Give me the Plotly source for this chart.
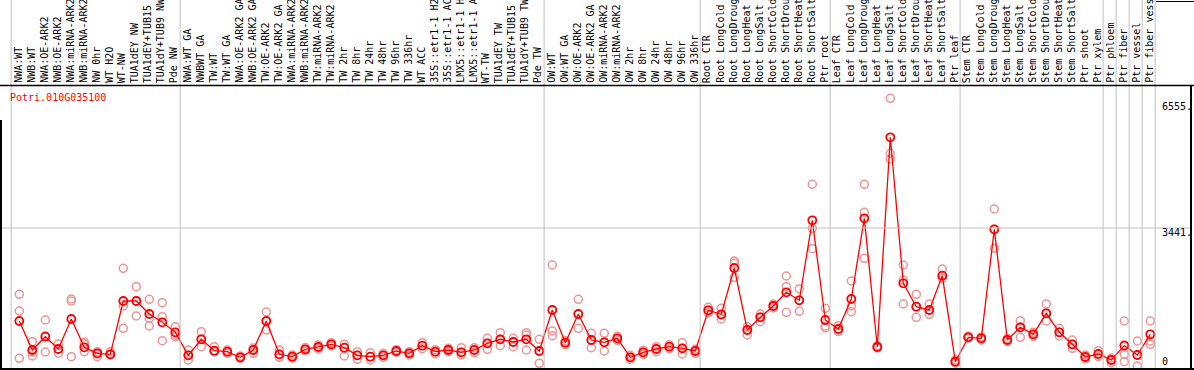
import plotly.graph_objects as go

categories = [
    "NWA:WT", "NWB:WT", "NWA:OE-ARK2", "NWB:OE-ARK2", "NWA:miRNA-ARK2", "NWB:miRNA-ARK2",
    "NW 0hr", "WT H2O", "WT-NW", "TUA1dEY NW", "TUA1dEY+TUB15 NW", "TUA1dY+TUB9 NW", "Pde NW",
    "NWA:WT GA", "NWBWT GA", "TW:WT", "TW:WT GA", "NWA:OE-ARK2 GA", "NWB:OE-ARK2 GA",
    "TW:OE-ARK2", "TW:OE-ARK2 GA", "NWA:miRNA-ARK2", "NWB:miRNA-ARK2", "TW:miRNA-ARK2",
    "TW:miRNA-ARK2", "TW 2hr", "TW 8hr", "TW 24hr", "TW 48hr", "TW 96hr", "TW 336hr",
    "WT ACC", "35S::etr1-1 H2O", "35S::etr1-1 ACC", "LMX5::etr1-1 H2O", "LMX5::etr1-1 ACC",
    "WT-TW", "TUA1dEY TW", "TUA1dEY+TUB15 TW", "TUA1dY+TUB9 TW", "Pde TW",
    "OW:WT", "OW:WT GA", "OW:OE-ARK2", "OW:OE-ARK2 GA", "OW:miRNA-ARK2", "OW:miRNA-ARK2",
    "OW 2hr", "OW 8hr", "OW 24hr", "OW 48hr", "OW 96hr", "OW 336hr",
    "Root CTR", "Root LongCold", "Root LongDrought", "Root LongHeat", "Root LongSalt",
    "Root ShortCold", "Root ShortDrought", "Root ShortHeat", "Root ShortSalt", "Ptr root",
    "Leaf CTR", "Leaf LongCold", "Leaf LongDrought", "Leaf LongHeat", "Leaf LongSalt",
    "Leaf ShortCold", "Leaf ShortDrought", "Leaf ShortHeat", "Leaf ShortSalt", "Ptr leaf",
    "Stem CTR", "Stem LongCold", "Stem LongDrought", "Stem LongHeat", "Stem LongSalt",
    "Stem ShortCold", "Stem ShortDrought", "Stem ShortHeat", "Stem ShortSalt", "Ptr shoot",
    "Ptr xylem", "Ptr phloem", "Ptr fiber", "Ptr vessel", "Ptr fiber vessel",
]

mean_values = [
    1122, 399, 730, 424, 1172, 466, 317, 292, 1620, 1620, 1296, 1089, 840,
    267, 666, 381, 357, 217, 399, 1122, 292, 232, 416, 474, 541, 456, 267, 232, 267,
    374, 317, 506, 357, 399, 342, 399, 566, 666, 598, 666, 374,
    1396, 581, 1296, 648, 591, 691, 217, 342, 424, 481, 441, 374,
    1389, 1289, 2443, 897, 1214, 1496, 1837, 1638, 3632, 1147,
    922, 1670, 3682, 474, 5702, 2062, 1478, 1396, 2251, 107,
    715, 691, 3408, 648, 965, 790, 1314, 840, 541, 224, 299,
    150, 511, 274, 790,
]

replicate_values = [
    [1787, 1371, 192], [606, 349, 249], [1147, 748, 349], [548, 424, 317],
    [1670, 1620, 232], [591, 548, 357], [357, 299, 232], [357, 292, 274],
    [2436, 1496, 940], [1977, 1620, 1247], [1663, 1189, 997], [1578, 1229, 631],
    [980, 773, 730], [399, 267, 150], [855, 666, 481], [481, 381, 357],
    [399, 357, 317], [249, 217, 192], [449, 399, 317], [1346, 1122, 897],
    [399, 292, 217], [274, 232, 199], [461, 416, 374], [524, 474, 424],
    [581, 541, 499], [541, 456, 249], [357, 267, 167], [332, 232, 150],
    [317, 267, 217], [406, 374, 342], [357, 317, 274], [581, 506, 431],
    [406, 357, 307], [441, 399, 357], [456, 342, 274], [456, 399, 332],
    [691, 566, 416], [830, 666, 506], [691, 598, 481], [830, 773, 399],
    [666, 374, 67], [2518, 873, 755], [631, 581, 531], [1663, 1296, 940],
    [815, 648, 456], [815, 591, 374], [740, 691, 641], [267, 217, 167],
    [391, 342, 292], [481, 424, 357], [531, 481, 431], [581, 441, 299],
    [416, 374, 317], [1463, 1389, 1329], [1438, 1271, 1172], [2618, 2560, 2211],
    [980, 897, 773], [1296, 1222, 1104], [1546, 1496, 1446], [2244, 1977, 1339],
    [1920, 1638, 1364], [4530, 3433, 2924], [1438, 997, 955], [1005, 922, 857],
    [2119, 1496, 1354], [4530, 3832, 2685], [506, 474, 449], [6674, 5303, 5161],
    [2518, 2144, 1546], [1787, 1478, 1214], [1546, 1396, 1289], [2418, 2251, 2186],
    [150, 107, 75], [748, 715, 698], [723, 691, 648], [3914, 3408, 2934],
    [686, 648, 611], [1129, 965, 715], [840, 790, 740], [1546, 1314, 1122],
    [940, 840, 748], [648, 541, 441], [274, 224, 175], [381, 299, 237],
    [199, 150, 82], [1122, 292, 107], [623, 274, 0], [1122, 623, 541],
]

group_ends = [13, 41, 53, 63, 73, 84, 85, 86, 87, 88]
axis_labels = ["6555.", "3441.", "0"]
axis_label_values = [6555, 3441, 0]
gene_name = "Potri.010G035100"

W, H = 1194, 370
PX_PER_CAT = 13.0
X0_PX = 19.3
x_lo = 1 - X0_PX / PX_PER_CAT
x_hi = x_lo + W / PX_PER_CAT
V_PER_PX = 24.93
ZERO_PX = 366.0
y_lo = (ZERO_PX - H) * V_PER_PX
y_hi = ZERO_PX * V_PER_PX


def py(q):
    return 1 - q / H


def px(p):
    return p / W


xs = list(range(1, len(categories) + 1))
rep_x, rep_y = [], []
for i, reps in zip(xs, replicate_values):
    for v in reps:
        rep_x.append(i)
        rep_y.append(v)

fig = go.Figure()
fig.add_trace(go.Scatter(
    x=rep_x, y=rep_y, mode="markers",
    marker=dict(symbol="circle-open", size=8, color="#EE9494", line=dict(width=1.5)),
    hoverinfo="skip", showlegend=False,
))
fig.add_trace(go.Scatter(
    x=xs, y=mean_values, mode="lines+markers",
    line=dict(color="#FF0000", width=1.3),
    marker=dict(symbol="circle-open", size=8, color="#FF0000", line=dict(width=1.8)),
    showlegend=False,
))

shapes = []
sep_positions = [0] + group_ends
for g in sep_positions:
    shapes.append(dict(type="line", xref="x", yref="paper", x0=g + 0.37, x1=g + 0.37,
                       y0=0, y1=1, line=dict(color="#C0C0C0", width=1)))
shapes.append(dict(type="line", xref="paper", yref="y", x0=px(1), x1=px(1191),
                   y0=3441, y1=3441, line=dict(color="#C0C0C0", width=1)))
# header separator
shapes.append(dict(type="line", xref="paper", yref="paper", x0=0, x1=1,
                   y0=py(85.5), y1=py(85.5), line=dict(color="black", width=1.5)))
# frame around the data panel
shapes.append(dict(type="line", xref="paper", yref="paper", x0=px(1), x1=px(1),
                   y0=py(369), y1=py(120), line=dict(color="black", width=2)))
shapes.append(dict(type="line", xref="paper", yref="paper", x0=px(1191), x1=px(1191),
                   y0=py(369), y1=py(85), line=dict(color="black", width=2)))
shapes.append(dict(type="line", xref="paper", yref="paper", x0=0, x1=1,
                   y0=py(369), y1=py(369), line=dict(color="black", width=2)))
shapes.append(dict(type="line", xref="paper", yref="paper", x0=px(1156), x1=1,
                   y0=py(1.5), y1=py(1.5), line=dict(color="black", width=1)))

MONO = "DejaVu Sans Mono"
annotations = []
for i, lab in zip(xs, categories):
    annotations.append(dict(
        x=i, xref="x", y=py(84), yref="paper", text=lab, showarrow=False,
        textangle=-90, xanchor="center", yanchor="bottom", xshift=-1.5,
        font=dict(family=MONO, size=10, color="black"), borderpad=0,
    ))
annotations.append(dict(
    x=px(8.5), xref="paper", y=py(97), yref="paper", text=gene_name, showarrow=False,
    xanchor="left", yanchor="middle", font=dict(family=MONO, size=10, color="#FF0000"),
    borderpad=0,
))
label_centers = [106.7, 232.7, 361.7]
for lab, qc in zip(axis_labels, label_centers):
    annotations.append(dict(
        x=px(1161), xref="paper", y=py(qc), yref="paper", text=lab, showarrow=False,
        xanchor="left", yanchor="middle", font=dict(family=MONO, size=10, color="black"),
        borderpad=0,
    ))

fig.update_layout(
    width=W, height=H, margin=dict(l=0, r=0, t=0, b=0),
    paper_bgcolor="white", plot_bgcolor="white",
    xaxis=dict(range=[x_lo, x_hi], visible=False, fixedrange=True),
    yaxis=dict(range=[y_lo, y_hi], visible=False, fixedrange=True),
    shapes=shapes, annotations=annotations, showlegend=False,
)
fig.write_html(
    "out.html",
    config={"displayModeBar": False, "staticPlot": True},
    post_script="document.body.style.margin='0';document.body.style.overflow='hidden';",
)
